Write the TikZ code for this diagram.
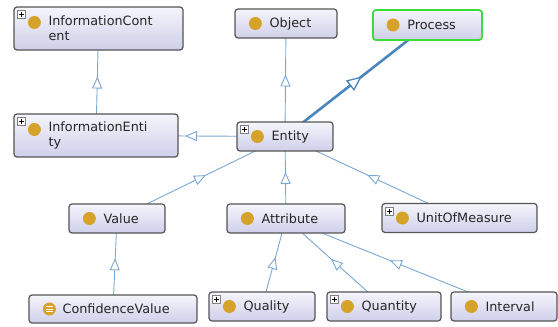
\documentclass[tikz,border=0pt]{standalone}
\usepackage{fontspec}
\setmainfont{DejaVu Sans}
\usetikzlibrary{arrows.meta,decorations.markings,backgrounds}

\definecolor{edgeblue}{HTML}{7BA7D3}
\definecolor{isablue}{HTML}{4A86BE}
\definecolor{boxline}{HTML}{555555}
\definecolor{boxtop}{HTML}{F5F5FC}
\definecolor{boxbottom}{HTML}{CFCFEA}
\definecolor{dotgold}{HTML}{D6A22A}
\definecolor{selgreen}{HTML}{3CDC3C}

\tikzset{
  cls/.style={draw=boxline, line width=1.2pt, rounded corners=3pt, top color=boxtop, bottom color=boxbottom, minimum height=29pt, inner sep=0pt},
  classdot/.style={circle, fill=dotgold, minimum size=13pt, inner sep=0pt},
  lbl/.style={anchor=west, inner sep=0pt, align=left, text=black!85, font=\fontsize{12.8}{15}\selectfont},
  plusbox/.style={draw=gray, fill=white, inner sep=0pt, minimum size=8pt, anchor=north west,
    path picture={\draw[black, line width=0.8pt]
      ([xshift=-2.6pt]path picture bounding box.center) -- ([xshift=2.6pt]path picture bounding box.center)
      ([yshift=-2.6pt]path picture bounding box.center) -- ([yshift=2.6pt]path picture bounding box.center);}},
  isa/.style={draw=edgeblue, line width=0.9pt, postaction={decorate},
    decoration={markings, mark=at position 0.5 with {\arrow[xshift=5.5pt]{Triangle[fill=white, line width=0.9pt, length=12pt, width=10pt]}}}},
  isabig/.style={draw=isablue, line width=2.6pt, postaction={decorate},
    decoration={markings, mark=at position 0.5 with {\arrow[xshift=7pt]{Triangle[fill=white, line width=1.3pt, length=15pt, width=13pt]}}}}
}

\begin{document}
\begin{tikzpicture}[x=1pt, y=-1pt]
    \useasboundingbox (0,0) rectangle (558,327);

    % class boxes
    \node[cls, minimum width=169pt, minimum height=43pt] (infocontent) at (98.5,28.5) {};
    \node[cls, minimum width=102pt] (object) at (286,23.5) {};
    \node[cls, draw=selgreen, line width=1.8pt, minimum width=109pt, minimum height=30pt] (process) at (427.5,25) {};
    \node[cls, minimum width=164pt, minimum height=43pt] (infoentity) at (96,135.5) {};
    \node[cls, minimum width=96pt] (entity) at (285,136.5) {};
    \node[cls, minimum width=96pt] (value) at (117,218.5) {};
    \node[cls, minimum width=118pt] (attribute) at (286,218.5) {};
    \node[cls, minimum width=155pt] (unit) at (459.5,218) {};
    \node[cls, minimum width=168pt, minimum height=28pt] (confidence) at (113,309) {};
    \node[cls, minimum width=106pt] (quality) at (262,306.5) {};
    \node[cls, minimum width=114pt] (quantity) at (384,306.5) {};
    \node[cls, minimum width=106pt] (interval) at (504,306.5) {};

    % dots
    \node[classdot] (infocontent-d) at ([xshift=21pt, yshift=6pt]infocontent.west) {};
    \node[classdot] (object-d) at ([xshift=21pt]object.west) {};
    \node[classdot] (process-d) at ([xshift=21pt]process.west) {};
    \node[classdot] (infoentity-d) at ([xshift=21pt, yshift=6pt]infoentity.west) {};
    \node[classdot] (entity-d) at ([xshift=21pt]entity.west) {};
    \node[classdot] (value-d) at ([xshift=21pt]value.west) {};
    \node[classdot] (attribute-d) at ([xshift=21pt]attribute.west) {};
    \node[classdot] (unit-d) at ([xshift=21pt]unit.west) {};
    \node[classdot, path picture={\draw[white, line width=0.7pt]
        ([xshift=-3.5pt, yshift=2.5pt]path picture bounding box.center) -- ([xshift=3.5pt, yshift=2.5pt]path picture bounding box.center)
        ([xshift=-3.5pt]path picture bounding box.center) -- ([xshift=3.5pt]path picture bounding box.center)
        ([xshift=-3.5pt, yshift=-2.5pt]path picture bounding box.center) -- ([xshift=3.5pt, yshift=-2.5pt]path picture bounding box.center);}]
        (confidence-d) at ([xshift=21pt]confidence.west) {};
    \node[classdot] (quality-d) at ([xshift=21pt]quality.west) {};
    \node[classdot] (quantity-d) at ([xshift=21pt]quantity.west) {};
    \node[classdot] (interval-d) at ([xshift=21pt]interval.west) {};

    % labels
    \node[lbl] (infocontent-l) at ([xshift=35pt]infocontent.west) {InformationCont\\ent};
    \node[lbl] (object-l) at ([xshift=35pt]object.west) {Object};
    \node[lbl] (process-l) at ([xshift=35pt]process.west) {Process};
    \node[lbl] (infoentity-l) at ([xshift=35pt]infoentity.west) {InformationEnti\\ty};
    \node[lbl] (entity-l) at ([xshift=35pt]entity.west) {Entity};
    \node[lbl] (value-l) at ([xshift=35pt]value.west) {Value};
    \node[lbl] (attribute-l) at ([xshift=35pt]attribute.west) {Attribute};
    \node[lbl] (unit-l) at ([xshift=35pt]unit.west) {UnitOfMeasure};
    \node[lbl] (confidence-l) at ([xshift=34pt]confidence.west) {ConfidenceValue};
    \node[lbl] (quality-l) at ([xshift=35pt]quality.west) {Quality};
    \node[lbl] (quantity-l) at ([xshift=35pt]quantity.west) {Quantity};
    \node[lbl] (interval-l) at ([xshift=35pt]interval.west) {Interval};

    % expand icons
    \node[plusbox] (infocontent-p) at ([xshift=4pt, yshift=-4pt]infocontent.north west) {};
    \node[plusbox] (infoentity-p) at ([xshift=4pt, yshift=-4pt]infoentity.north west) {};
    \node[plusbox] (entity-p) at ([xshift=4pt, yshift=-4pt]entity.north west) {};
    \node[plusbox] (unit-p) at ([xshift=4pt, yshift=-4pt]unit.north west) {};
    \node[plusbox] (quality-p) at ([xshift=4pt, yshift=-4pt]quality.north west) {};
    \node[plusbox] (quantity-p) at ([xshift=4pt, yshift=-4pt]quantity.north west) {};

    % subclass edges
    \begin{scope}[on background layer]
        \draw[isa] (entity.center) -- (object.center);
        \draw[isabig] (entity.center) -- (process.center);
        \draw[isa] (entity.center) -- (infoentity.center);
        \draw[isa] (infoentity.center) -- (infocontent.center);
        \draw[isa] (value.center) -- (entity.center);
        \draw[isa] (attribute.center) -- (entity.center);
        \draw[isa] (unit.center) -- (entity.center);
        \draw[isa] (confidence.center) -- (value.center);
        \draw[isa] (quality.center) -- (attribute.center);
        \draw[isa] (quantity.center) -- (attribute.center);
        \draw[isa] (interval.center) -- (attribute.center);
    \end{scope}
\end{tikzpicture}
\end{document}
